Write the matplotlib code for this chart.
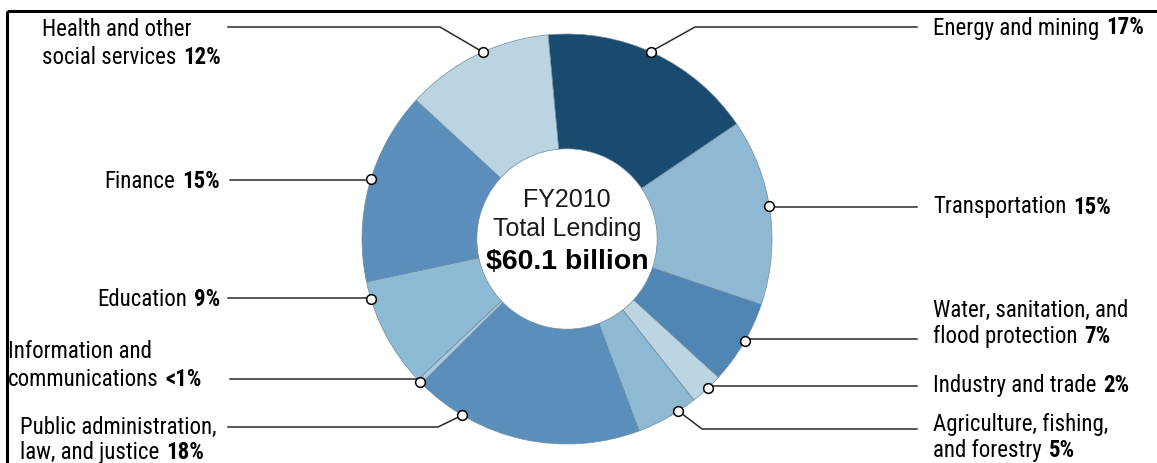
import matplotlib
matplotlib.use("Agg")
import matplotlib.pyplot as plt
from matplotlib import font_manager
import numpy as np

# datos del grafico (porcentaje del total de prestamos FY2010)
sectores = ["Energy and mining", "Transportation", "Water, sanitation, and\nflood protection",
            "Industry and trade", "Agriculture, fishing,\nand forestry",
            "Public administration,\nlaw, and justice", "Information and\ncommunications",
            "Education", "Finance", "Health and other\nsocial services"]
partes = [17.0, 14.7, 6.6, 2.6, 4.9, 18.3, 0.4, 8.7, 15.2, 11.7]
etiquetas_pct = ["17%", "15%", "7%", "2%", "5%", "18%", "<1%", "9%", "15%", "12%"]
colores = ["#1a4a6e", "#8fb8d3", "#4f86b4", "#bcd5e3", "#8db9d3",
           "#5a8fbb", "#a9c9dc", "#8dbad4", "#5b8ebb", "#bad4e2"]

# disposicion de las etiquetas (pixeles, y hacia abajo)
frac_marca = [0.48, 0.47, 0.47, 0.43, 0.3, 0.78, 0.5, 0.84, 0.53, 0.55]
linea_y = [28, 208, 340, 387, 430, 428, 380, 299, 181, 28]
codo_x = [695, None, None, None, 702, 438, None, None, None, 440]
fin_x = [917, 917, 917, 917, 917, 228, 230, 228, 230, 228]
texto_x = [933, 933, 933, 933, 933, 20, 8, 220, 220, 42]
texto_ha = ["left", "left", "left", "left", "left", "left", "left", "right", "right", "left"]
texto_y = [[28], [207], [310, 337], [386], [425, 451], [427, 453], [352, 380], [300], [181], [30, 57]]


def familia(nombres):
    for n in nombres:
        try:
            font_manager.findfont(n, fallback_to_default=False)
            return n
        except Exception:
            pass
    return "DejaVu Sans"


fam_narrow = familia(["Liberation Sans Narrow", "Roboto Condensed", "Liberation Sans"])
fam_centro = familia(["Liberation Sans", "Open Sans"])
fs = 16.5

W, H = 1157, 464
fig = plt.figure(figsize=(W / 100, H / 100), dpi=100)
ax = fig.add_axes([0, 0, 1, 1])

cx, cy = 567, H - 240
R = 205
wedges, _ = ax.pie(partes, colors=colores, startangle=95.3, counterclock=False,
                   center=(cx, cy), radius=R,
                   wedgeprops=dict(width=R * 0.56, edgecolor="#6d8ba3", linewidth=0.5))
ax.set_xlim(0, W)
ax.set_ylim(0, H)
ax.set_aspect("equal")
ax.axis("off")

# marco
ax.plot([7, W], [H - 12, H - 12], color="black", lw=2.2, solid_capstyle="butt")
ax.plot([7, 7], [H - 12, 0], color="black", lw=2.2, solid_capstyle="butt")

renderer = fig.canvas.get_renderer()

for i, w in enumerate(wedges):
    ang = np.deg2rad(w.theta2 - frac_marca[i] * (w.theta2 - w.theta1))
    mx = cx + R * np.cos(ang)
    my = cy + R * np.sin(ang)
    ly = H - linea_y[i]
    if codo_x[i] is None:
        xs, ys = [mx, fin_x[i]], [ly, ly]
    else:
        xs, ys = [mx, codo_x[i], fin_x[i]], [my, ly, ly]
    ax.plot(xs, ys, color="#2a2a2a", lw=1.1, zorder=3)
    ax.plot(mx, my, "o", ms=7, mfc="white", mec="black", mew=1.1, zorder=4)

    lineas = sectores[i].split("\n")
    for j, txt in enumerate(lineas):
        y = H - texto_y[i][j]
        ultima = j == len(lineas) - 1
        if not ultima:
            ax.text(texto_x[i], y, txt, ha=texto_ha[i], va="center",
                    fontsize=fs, family=fam_narrow)
            continue
        if texto_ha[i] == "right":
            tb = ax.text(texto_x[i], y, etiquetas_pct[i], ha="right", va="center",
                         fontsize=fs, family=fam_narrow, weight="bold")
            ancho = tb.get_window_extent(renderer).width
            ax.text(texto_x[i] - ancho - 7, y, txt, ha="right", va="center",
                    fontsize=fs, family=fam_narrow)
        else:
            tn = ax.text(texto_x[i], y, txt, ha="left", va="center",
                         fontsize=fs, family=fam_narrow)
            ancho = tn.get_window_extent(renderer).width
            ax.text(texto_x[i] + ancho + 7, y, etiquetas_pct[i], ha="left", va="center",
                    fontsize=fs, family=fam_narrow, weight="bold")

# texto central
ax.text(cx, H - 200, "FY2010", ha="center", va="center", fontsize=18, family=fam_centro, color="#1a1a1a")
ax.text(cx, H - 229, "Total Lending", ha="center", va="center", fontsize=18, family=fam_centro, color="#1a1a1a")
ax.text(cx, H - 262, r"\$60.1 billion", ha="center", va="center", fontsize=20.5,
        family=fam_centro, weight="bold", color="black")

fig.savefig("out.png", dpi=100)
